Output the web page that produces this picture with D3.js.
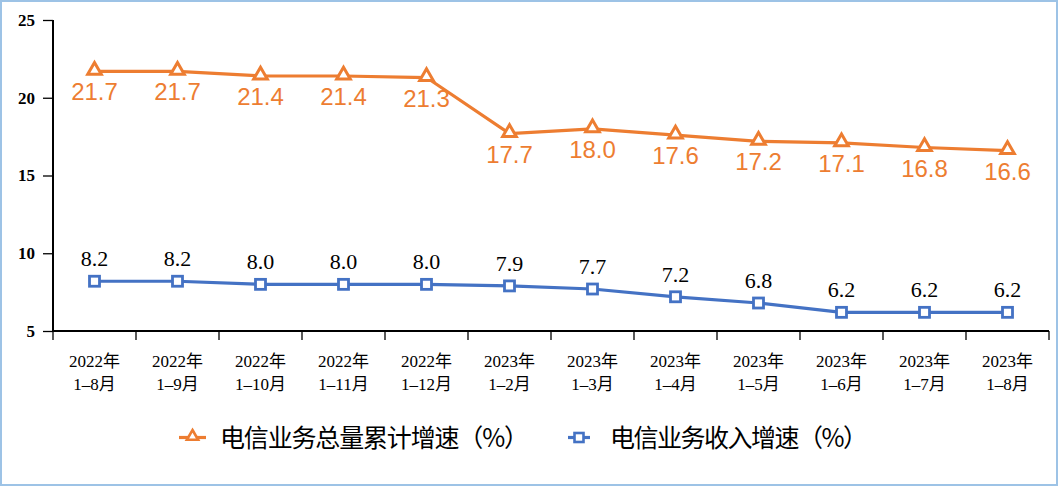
<!DOCTYPE html>
<html><head><meta charset="utf-8">
<script src="https://cdn.jsdelivr.net/npm/d3@7"></script>
<style>
html,body{margin:0;padding:0;background:#fff;}
svg{display:block;}
</style></head>
<body>
<svg id="c" width="1058" height="486"></svg>
<script>
const yearLabels = ["2022年","2022年","2022年","2022年","2022年","2023年","2023年","2023年","2023年","2023年","2023年","2023年"];
const monthLabels = ["1–8月","1–9月","1–10月","1–11月","1–12月","1–2月","1–3月","1–4月","1–5月","1–6月","1–7月","1–8月"];
const volumeGrowth = [21.7,21.7,21.4,21.4,21.3,17.7,18.0,17.6,17.2,17.1,16.8,16.6];
const revenueGrowth = [8.2,8.2,8.0,8.0,8.0,7.9,7.7,7.2,6.8,6.2,6.2,6.2];
const yTicks = [5,10,15,20,25];
const seriesNames = ["电信业务总量累计增速（%）","电信业务收入增速（%）"];

const svg = d3.select("#c");
const W = 1058, H = 486;
const orange = "#ed7d31", blue = "#4472c4";
const pLeft = 53, pRight = 1049, pTop = 20, pBottom = 331;

svg.append("rect").attr("x",1).attr("y",1).attr("width",W-2).attr("height",H-2)
  .attr("fill","#fff").attr("stroke","#9dc3e6").attr("stroke-width",2);

const idx = d3.range(volumeGrowth.length);
const xBand = d3.scaleBand().domain(idx).range([pLeft,pRight]).paddingInner(0).paddingOuter(0);
const xc = i => xBand(i) + xBand.bandwidth()/2;
const y = d3.scaleLinear().domain([5,25]).range([pBottom,pTop]);

// y axis
const yAxis = d3.axisLeft(y).tickValues(yTicks).tickSize(10).tickPadding(8).tickFormat(d3.format("d"));
const gy = svg.append("g").attr("transform",`translate(${pLeft},0)`).call(yAxis);
gy.select(".domain").attr("stroke","#000").attr("stroke-width",2).attr("d",`M0,${pTop}V${pBottom}`);
gy.selectAll(".tick line").attr("stroke","#000").attr("stroke-width",1.3);
gy.selectAll(".tick text").attr("font-family","'Liberation Serif','Times New Roman',serif")
  .attr("font-size",17).attr("font-weight","bold").attr("fill","#000");

// x axis
const gx = svg.append("g").attr("transform",`translate(0,${pBottom})`);
gx.append("line").attr("x1",pLeft).attr("x2",pRight).attr("y1",0).attr("y2",0).attr("stroke","#000").attr("stroke-width",2);
const bounds = idx.map(i=>xBand(i)).concat([pRight]);
gx.selectAll("line.t").data(bounds).join("line").attr("class","t")
  .attr("x1",d=>d).attr("x2",d=>d).attr("y1",0).attr("y2",9).attr("stroke","#000").attr("stroke-width",1.3);
const xl = gx.selectAll("text.xl").data(idx).join("text").attr("class","xl")
  .attr("x",i=>xc(i)).attr("text-anchor","middle")
  .attr("font-family","'Liberation Serif','Noto Sans CJK SC',serif").attr("font-size",17).attr("fill","#000");
xl.append("tspan").attr("x",i=>xc(i)).attr("y",36).text(i=>yearLabels[i]);
xl.append("tspan").attr("x",i=>xc(i)).attr("y",59).text(i=>monthLabels[i]);

// lines
const lineGen = data => d3.line().x((d,i)=>xc(i)).y(d=>y(d))(data);
svg.append("path").attr("d",lineGen(volumeGrowth)).attr("fill","none").attr("stroke",orange).attr("stroke-width",3.2);
svg.append("path").attr("d",lineGen(revenueGrowth)).attr("fill","none").attr("stroke",blue).attr("stroke-width",3.2);

const tri = d3.symbol().type(d3.symbolTriangle).size(80);
svg.selectAll("path.tri").data(volumeGrowth).join("path").attr("class","tri")
  .attr("d",tri).attr("transform",(d,i)=>`translate(${xc(i)},${y(d)-1})`)
  .attr("fill","#fff").attr("stroke",orange).attr("stroke-width",3);
svg.selectAll("rect.sq").data(revenueGrowth).join("rect").attr("class","sq")
  .attr("x",(d,i)=>xc(i)-5).attr("y",d=>y(d)-5).attr("width",10).attr("height",10)
  .attr("fill","#fff").attr("stroke",blue).attr("stroke-width",2.8);

// labels
svg.selectAll("text.vl").data(volumeGrowth).join("text").attr("class","vl")
  .attr("x",(d,i)=>xc(i)).attr("y",d=>y(d)+29).attr("text-anchor","middle")
  .attr("font-family","'Liberation Sans',Arial,sans-serif").attr("font-size",24).attr("fill",orange)
  .text(d=>d.toFixed(1));
svg.selectAll("text.rl").data(revenueGrowth).join("text").attr("class","rl")
  .attr("x",(d,i)=>xc(i)).attr("y",d=>y(d)-15).attr("text-anchor","middle")
  .attr("font-family","'Liberation Serif','Times New Roman',serif").attr("font-size",22).attr("fill","#000")
  .text(d=>d.toFixed(1));

// legend
const ly = 437.5;
const lg = svg.append("g");
lg.append("line").attr("x1",179).attr("x2",206).attr("y1",ly).attr("y2",ly).attr("stroke",orange).attr("stroke-width",3.2);
lg.append("path").attr("d",d3.symbol().type(d3.symbolTriangle).size(55)).attr("transform",`translate(192.5,${ly-1})`)
  .attr("fill","#fff").attr("stroke",orange).attr("stroke-width",2.6);
lg.append("text").attr("x",220).attr("y",447).attr("font-family","'Noto Sans CJK SC',sans-serif").attr("font-size",25)
  .attr("textLength",309).attr("lengthAdjust","spacing").attr("fill","#000").text(seriesNames[0]);
lg.append("line").attr("x1",568).attr("x2",590).attr("y1",ly).attr("y2",ly).attr("stroke",blue).attr("stroke-width",3.2);
lg.append("rect").attr("x",574.5).attr("y",ly-4.5).attr("width",9).attr("height",9).attr("fill","#fff").attr("stroke",blue).attr("stroke-width",2.6);
lg.append("text").attr("x",610).attr("y",447).attr("font-family","'Noto Sans CJK SC',sans-serif").attr("font-size",25)
  .attr("textLength",258).attr("lengthAdjust","spacing").attr("fill","#000").text(seriesNames[1]);
</script>
</body></html>
